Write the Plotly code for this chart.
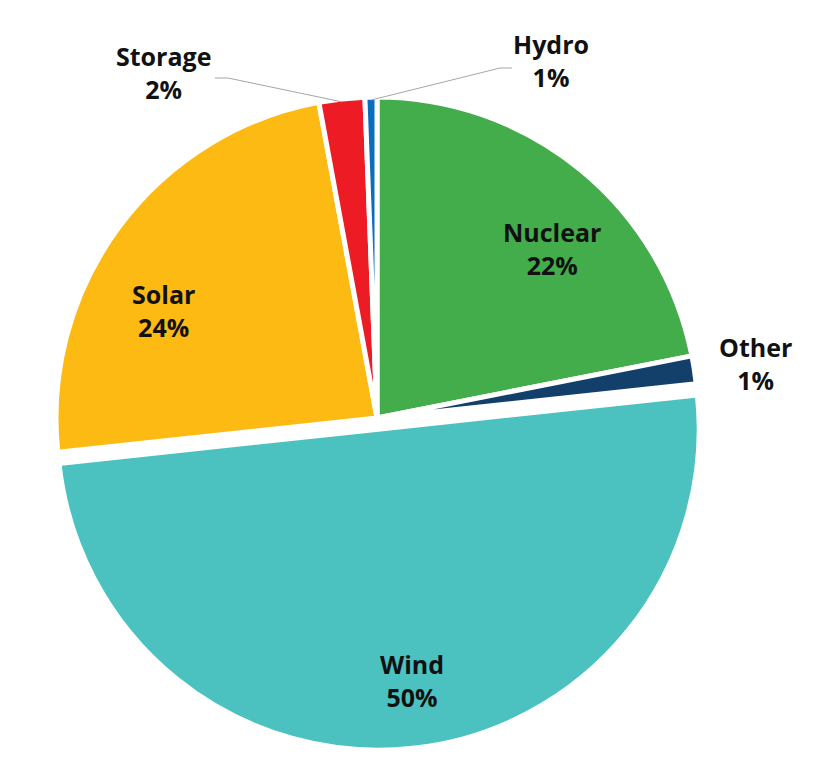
import math
import plotly.graph_objects as go

labels = ["Nuclear", "Other", "Wind", "Solar", "Storage", "Hydro"]
values = [21.9, 1.4, 50.0, 23.8, 2.3, 0.6]
colors = ["#42AD4A", "#12406B", "#4BC2C0", "#FCBA12", "#ED1C24", "#0A6EBD"]
pulls = [0, 0, 0.035, 0, 0, 0]

W, H = 835, 770
OFF = 8  # page body margin offsets the figure in the window
CX, CY, R = 377, 418, 321
half = R * (1 + max(pulls))


def fx(x):
    return (x - OFF) / W


def fy(y):
    return 1 - (y - OFF) / H


fig = go.Figure(go.Pie(
    labels=labels,
    values=values,
    sort=False,
    direction="clockwise",
    rotation=0,
    pull=pulls,
    marker=dict(colors=colors, line=dict(color="white", width=5)),
    textinfo="none",
    hoverinfo="label+percent",
    showlegend=False,
    domain=dict(x=[fx(CX - half), fx(CX + half)],
                y=[fy(CY + half), fy(CY - half)]),
))

total = sum(values)
cum = 0
mids = {}
for l, v in zip(labels, values):
    mids[l] = (cum + v / 2) / total * 360
    cum += v

ann_font = dict(family="Open Sans", size=25, color="#111111", weight="bold")
label_cfg = {
    "Nuclear": dict(pos=(552, 248), line=None),
    "Solar": dict(pos=(163, 310), line=None),
    "Wind": dict(pos=(412, 680), line=None),
    "Other": dict(pos=(755, 364), line=None),
    "Storage": dict(pos=(163, 72), line=(215, 78, 228)),
    "Hydro": dict(pos=(551, 60), line=(512, 68, 500)),
}
for l, cfg in label_cfg.items():
    pct = round(values[labels.index(l)] / total * 100)
    x, y = cfg["pos"]
    fig.add_annotation(x=fx(x), y=fy(y), xref="paper", yref="paper",
                       xanchor="center", yanchor="middle",
                       showarrow=False, text=f"{l}<br>{pct}%",
                       font=ann_font, align="center")
    if cfg["line"]:
        x0, y0, xk = cfg["line"]
        a = math.radians(mids[l])
        ex, ey = CX + (R - 3) * math.sin(a), CY - (R - 3) * math.cos(a)
        pts = [(x0, y0), (xk, y0), (ex, ey)]
        path = "M " + " L ".join(f"{fx(p[0])},{fy(p[1])}" for p in pts)
        fig.add_shape(type="path", path=path, xref="paper", yref="paper",
                      line=dict(color="#A6A6A6", width=1))

fig.update_layout(
    width=W, height=H,
    margin=dict(l=0, r=0, t=0, b=0),
    paper_bgcolor="white",
    plot_bgcolor="white",
)

fig.write_html("out.html")
